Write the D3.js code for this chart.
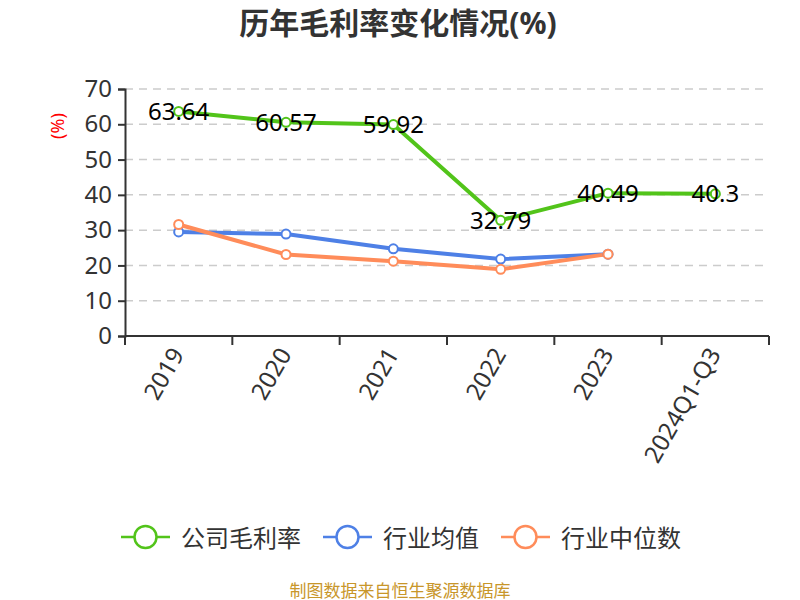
<!DOCTYPE html>
<html>
<head>
<meta charset="utf-8">
<script src="https://cdn.jsdelivr.net/npm/d3@7"></script>
<style>
  body { margin: 0; background: #fff; }
  svg text { font-family: "Noto Sans", "Noto Sans CJK SC", sans-serif; }
</style>
</head>
<body>
<svg id="chart" width="800" height="600"></svg>
<script>
// categories and series
var years = ['2019', '2020', '2021', '2022', '2023', '2024Q1-Q3'];
var companyMargin = [63.64, 60.57, 59.92, 32.79, 40.49, 40.3];
var industryMean = [29.5, 28.9, 24.7, 21.8, 23.2];
var industryMedian = [31.6, 23.1, 21.2, 18.9, 23.2];
var yTicks = [0, 10, 20, 30, 40, 50, 60, 70];

var seriesNames = ['公司毛利率', '行业均值', '行业中位数'];
var colors = ['#52c41a', '#4e80e6', '#ff8c5a'];

var svg = d3.select('#chart');
var plotLeft = 125, plotRight = 769, plotTop = 89, plotBottom = 336;

var x = d3.scaleBand().domain(years).range([plotLeft, plotRight]);
var y = d3.scaleLinear().domain([0, 70]).range([plotBottom, plotTop]);

// title
svg.append('text')
    .attr('x', 398).attr('y', 34)
    .attr('text-anchor', 'middle')
    .style('font-size', '30px').style('font-weight', 'bold')
    .attr('fill', '#333')
    .text('历年毛利率变化情况(%)');

// grid lines
svg.append('g').selectAll('line')
    .data(yTicks.filter(function (d) { return d > 0; }))
    .join('line')
    .attr('x1', plotLeft).attr('x2', plotRight)
    .attr('y1', function (d) { return y(d); })
    .attr('y2', function (d) { return y(d); })
    .attr('stroke', '#ccc').attr('stroke-width', 1.5)
    .attr('stroke-dasharray', '8,6');

// y axis
var yAxis = svg.append('g')
    .attr('transform', 'translate(' + plotLeft + ',0)')
    .call(d3.axisLeft(y).tickValues(yTicks).tickSize(7).tickPadding(6));
yAxis.select('.domain').attr('stroke', '#333').attr('stroke-width', 2);
yAxis.selectAll('.tick line').attr('stroke', '#333').attr('stroke-width', 2);
yAxis.selectAll('.tick text')
    .style('font-size', '24px').attr('fill', '#333')
    .style('font-family', '"Noto Sans", sans-serif');
// y axis line continues down past the x axis
yAxis.append('line').attr('x1', 0).attr('x2', 0)
    .attr('y1', plotBottom).attr('y2', plotBottom + 9)
    .attr('stroke', '#333').attr('stroke-width', 2);

// x axis, ticks on band boundaries
var xAxisG = svg.append('g').attr('transform', 'translate(0,' + plotBottom + ')');
xAxisG.append('line')
    .attr('x1', plotLeft).attr('x2', plotRight)
    .attr('stroke', '#333').attr('stroke-width', 2);
var bounds = years.map(function (d) { return x(d); }).concat([plotRight]);
xAxisG.selectAll('.xtick').data(bounds).join('line')
    .attr('class', 'xtick')
    .attr('x1', function (d) { return d; }).attr('x2', function (d) { return d; })
    .attr('y1', 0).attr('y2', 9)
    .attr('stroke', '#333').attr('stroke-width', 2);
xAxisG.selectAll('.xlabel').data(years).join('text')
    .attr('class', 'xlabel')
    .attr('transform', function (d) {
        return 'translate(' + (x(d) + x.bandwidth() / 2 - 1) + ',14) rotate(-60)';
    })
    .attr('text-anchor', 'end')
    .attr('dy', '0.35em')
    .style('font-size', '24px').attr('fill', '#333')
    .text(function (d) { return d; });

// y axis name
svg.append('text')
    .attr('transform', 'translate(64,126) rotate(-90)')
    .attr('text-anchor', 'middle')
    .style('font-size', '18px').attr('fill', 'red')
    .text('(%)');

// lines
var allSeries = [companyMargin, industryMean, industryMedian];
var line = d3.line()
    .x(function (d, i) { return x(years[i]) + x.bandwidth() / 2; })
    .y(function (d) { return y(d); });

allSeries.forEach(function (data, s) {
    svg.append('path').datum(data)
        .attr('d', line)
        .attr('fill', 'none')
        .attr('stroke', colors[s])
        .attr('stroke-width', 4)
        .attr('stroke-linejoin', 'round');
});
allSeries.forEach(function (data, s) {
    svg.append('g').selectAll('circle').data(data).join('circle')
        .attr('cx', function (d, i) { return x(years[i]) + x.bandwidth() / 2; })
        .attr('cy', function (d) { return y(d); })
        .attr('r', 4.5)
        .attr('fill', '#fff')
        .attr('stroke', colors[s])
        .attr('stroke-width', 2);
});

// data labels for company margin
svg.append('g').selectAll('text').data(companyMargin).join('text')
    .attr('x', function (d, i) { return x(years[i]) + x.bandwidth() / 2; })
    .attr('y', function (d) { return y(d) - 1; })
    .attr('text-anchor', 'middle')
    .attr('dominant-baseline', 'central')
    .style('font-size', '24px').attr('fill', '#000')
    .text(function (d) { return d; });

// legend
var legendX = [121, 323, 501];
var legend = svg.append('g');
seriesNames.forEach(function (name, s) {
    var g = legend.append('g').attr('transform', 'translate(' + legendX[s] + ',537)');
    g.append('line').attr('x1', 0).attr('x2', 49)
        .attr('stroke', colors[s]).attr('stroke-width', 2.5);
    g.append('circle').attr('cx', 24.5).attr('cy', 0).attr('r', 11)
        .attr('fill', '#fff').attr('stroke', colors[s]).attr('stroke-width', 2.5);
    g.append('text').attr('x', 60).attr('y', 0)
        .attr('dominant-baseline', 'central')
        .style('font-size', '24px').attr('fill', '#333')
        .text(name);
});

// footer
svg.append('text')
    .attr('x', 400).attr('y', 590)
    .attr('text-anchor', 'middle')
    .attr('dominant-baseline', 'central')
    .style('font-size', '17px').attr('fill', '#c8962a')
    .text('制图数据来自恒生聚源数据库');
</script>
</body>
</html>
